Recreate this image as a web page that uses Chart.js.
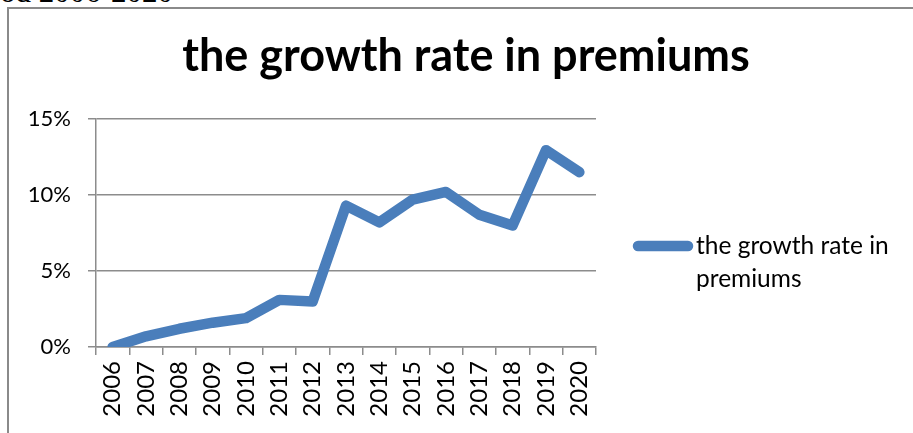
<!DOCTYPE html>
<html>
<head>
<meta charset="utf-8">
<title>the growth rate in premiums</title>
<script src="https://cdn.jsdelivr.net/npm/chart.js@4"></script>
<style>
    html, body { margin: 0; padding: 0; background: #fff; overflow: hidden; }
    #wrap { position: relative; width: 913px; height: 433px; }
    /* caption line of the page above the chart, mostly scrolled off */
    #caption {
        position: absolute; left: 0px; top: -23px;
        font-family: "Liberation Serif", serif; font-size: 31px; line-height: 30px; color: #000;
        white-space: nowrap;
    }
    /* chart frame: only the left and top edges are on screen */
    #frame {
        position: absolute; left: 7px; top: 7px; width: 920px; height: 440px;
        border-left: 2px solid #8a8a8a; border-top: 2px solid #8a8a8a;
    }
    #id_chart { position: absolute; left: 0; top: 0; }
</style>
</head>
<body>
<div id="wrap">
    <div id="caption">od 2006-2020</div>
    <div id="frame"></div>
    <canvas id="id_chart" width="913" height="433"></canvas>
</div>
<script>
// growth rate of premiums per year, in percent
var years = ["2006", "2007", "2008", "2009", "2010", "2011", "2012", "2013",
             "2014", "2015", "2016", "2017", "2018", "2019", "2020"];
var growthRate = [0, 0.7, 1.2, 1.6, 1.9, 3.1, 3.0, 9.3, 8.2, 9.7, 10.2, 8.7, 8.0, 12.95, 11.5];
var yTicks = [0, 5, 10, 15];
var seriesName = "the growth rate in premiums";
var legendLines = ["the growth rate in", "premiums"];

var FONT = "Lato, 'Open Sans', sans-serif";
var LINE_BLUE = "#4a7ebb";
var GRID_GRAY = "#8c8c8c";

// title and right-hand legend are painted here, the plot keeps the left part
var _headlinePlugin = {
    id: "headline",
    afterDraw: function( chart ){
        var ctx = chart.ctx;
        var area = chart.chartArea;
        ctx.save();
        ctx.fillStyle = "#000";
        ctx.textAlign = "center";
        ctx.textBaseline = "alphabetic";
        ctx.font = "bold 45px " + FONT;
        ctx.fillText( seriesName, 466, 71 );

        // legend: a short thick stroke and the wrapped series name
        var ds = chart.data.datasets[0];
        var lx = area.right + 37;
        var ly = area.top + 127;
        ctx.strokeStyle = ds.borderColor;
        ctx.lineWidth = ds.borderWidth;
        ctx.lineCap = "round";
        ctx.beginPath();
        ctx.moveTo( lx + 5, ly );
        ctx.lineTo( lx + 55, ly );
        ctx.stroke();

        ctx.textAlign = "left";
        ctx.font = "24.5px " + FONT;
        var n = 0;
        while( n < legendLines.length ){
            ctx.fillText( legendLines[n], lx + 63, ly + 8 + n * 33 );
            n++;
        }
        ctx.restore();
    }
};

var _makeChart = function( canvasId ){
    var ctx = document.getElementById( canvasId ).getContext("2d");
    return new Chart(ctx, {
        type: "line",
        data: {
            labels: years,
            datasets: [{
                label: seriesName,
                data: growthRate,
                borderColor: LINE_BLUE,
                backgroundColor: LINE_BLUE,
                borderWidth: 10.5,
                borderCapStyle: "round",
                borderJoinStyle: "round",
                pointRadius: 0,
                tension: 0
            }]
        },
        options: {
            responsive: false,
            animation: false,
            layout: { padding: { top: 119, right: 317, bottom: 0, left: 0 } },
            plugins: {
                legend: { display: false },
                title: { display: false },
                tooltip: { enabled: false }
            },
            scales: {
                x: {
                    offset: true,
                    grid: {
                        offset: true,
                        drawOnChartArea: false,
                        drawTicks: true,
                        tickLength: 8,
                        color: GRID_GRAY,
                        lineWidth: 1.5
                    },
                    border: { color: GRID_GRAY, width: 1.5 },
                    ticks: {
                        autoSkip: false,
                        minRotation: 90,
                        maxRotation: 90,
                        padding: 6,
                        color: "#000",
                        font: { family: FONT, size: 24 }
                    },
                    afterFit: function( scale ){ scale.height = 86; }
                },
                y: {
                    min: 0,
                    max: 15,
                    afterBuildTicks: function( scale ){
                        scale.ticks = yTicks.map(function( v ){ return { value: v }; });
                    },
                    grid: {
                        color: GRID_GRAY,
                        lineWidth: 1.5,
                        drawTicks: true,
                        tickLength: 8
                    },
                    border: { color: GRID_GRAY, width: 1.5 },
                    ticks: {
                        padding: 17,
                        color: "#000",
                        font: { family: FONT, size: 22 },
                        callback: function( v ){ return v + "%"; }
                    },
                    afterFit: function( scale ){ scale.width = 96; }
                }
            }
        },
        plugins: [ _headlinePlugin ]
    });
};

window.onload = function(){
    _makeChart( "id_chart" );
};
</script>
</body>
</html>
